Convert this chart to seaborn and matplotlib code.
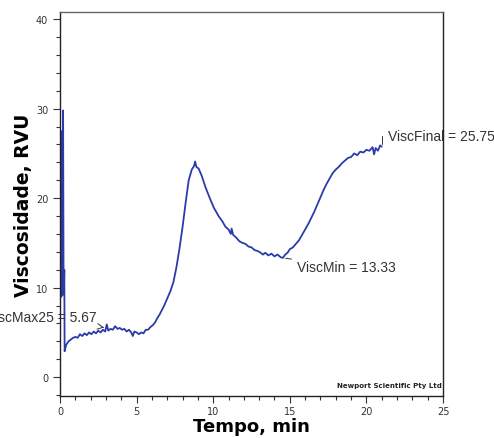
import matplotlib
matplotlib.use("Agg")
import matplotlib.pyplot as plt
from matplotlib.ticker import MultipleLocator
import pandas as pd
import seaborn as sns

# RVA curve (time in min, viscosity in RVU)
tempo = [0.10, 0.12, 0.14, 0.16, 0.18, 0.20, 0.23, 0.25, 0.28, 0.30,
         0.40, 0.55, 0.70, 0.85, 1.00, 1.15, 1.30, 1.45, 1.60, 1.75,
         1.90, 2.05, 2.20, 2.35, 2.50, 2.65, 2.80, 2.95, 3.05, 3.15,
         3.30, 3.45, 3.60, 3.75, 3.90, 4.05, 4.20, 4.35, 4.50, 4.65,
         4.75, 4.85, 5.00, 5.15, 5.30, 5.45, 5.60, 5.75, 5.90, 6.05,
         6.20, 6.35, 6.50, 6.65, 6.80, 7.00, 7.20, 7.40, 7.60, 7.80,
         8.00, 8.20, 8.40, 8.60, 8.75, 8.82, 8.90, 9.05, 9.25, 9.50,
         9.80, 10.05, 10.35, 10.60, 10.80, 11.00, 11.15, 11.20, 11.30, 11.50,
         11.70, 11.90, 12.10, 12.30, 12.50, 12.70, 12.90, 13.10, 13.25, 13.40,
         13.60, 13.80, 14.00, 14.20, 14.40, 14.55, 14.70, 14.85, 15.00, 15.20,
         15.40, 15.60, 15.80, 16.00, 16.20, 16.40, 16.60, 16.80, 17.00, 17.20,
         17.40, 17.60, 17.80, 18.00, 18.20, 18.40, 18.60, 18.80, 19.00, 19.20,
         19.40, 19.60, 19.80, 20.00, 20.20, 20.40, 20.50, 20.60, 20.75, 20.90,
         21.00]
viscosidade = [9.0, 27.5, 10.5, 12.0, 9.2, 29.8, 11.5, 9.5, 12.0, 2.9,
               3.6, 4.0, 4.2, 4.4, 4.5, 4.4, 4.8, 4.6, 4.9, 4.7,
               5.0, 4.8, 5.1, 4.9, 5.2, 5.0, 5.3, 5.1, 5.9, 5.2,
               5.4, 5.3, 5.7, 5.4, 5.5, 5.3, 5.4, 5.1, 5.3, 5.0,
               4.6, 5.1, 5.0, 4.8, 5.0, 4.9, 5.3, 5.3, 5.6, 5.8,
               6.1, 6.6, 7.0, 7.5, 8.0, 8.8, 9.6, 10.6, 12.3, 14.4,
               16.8, 19.5, 22.0, 23.2, 23.6, 24.1, 23.5, 23.3, 22.5, 21.2,
               19.9, 18.9, 18.0, 17.4, 16.8, 16.5, 16.0, 16.6, 15.9, 15.6,
               15.2, 15.0, 14.9, 14.6, 14.5, 14.2, 14.1, 13.9, 13.7, 13.9,
               13.6, 13.8, 13.5, 13.7, 13.4, 13.33, 13.7, 13.9, 14.3, 14.5,
               14.9, 15.3, 15.9, 16.5, 17.1, 17.8, 18.5, 19.3, 20.1, 20.9,
               21.6, 22.2, 22.8, 23.2, 23.5, 23.9, 24.2, 24.5, 24.6, 25.0,
               24.8, 25.2, 25.1, 25.4, 25.3, 25.7, 24.9, 25.6, 25.3, 25.9,
               25.75]

# labelled points: (text, x, y)
visc_max = ("ViscMax25 = 5.67", 3.05, 5.5)
visc_min = ("ViscMin = 13.33", 14.55, 13.33)
visc_final = ("ViscFinal = 25.75", 21.0, 25.75)

df = pd.DataFrame({"tempo": tempo, "visc": viscosidade})

sns.set_style("ticks")
fig = plt.figure(figsize=(4.94, 4.39), dpi=100)
ax = fig.add_axes([0.1215, 0.0957, 0.7753, 0.8747])

sns.lineplot(data=df, x="tempo", y="visc", sort=False, estimator=None,
             color="#2b3bab", linewidth=1.3, ax=ax)

ax.set_xlim(0, 25)
ax.set_ylim(-2.1, 40.8)
ax.xaxis.set_major_locator(MultipleLocator(5))
ax.xaxis.set_minor_locator(MultipleLocator(1))
ax.yaxis.set_major_locator(MultipleLocator(10))
ax.yaxis.set_minor_locator(MultipleLocator(2))
ax.tick_params(which="major", length=5, width=0.8, labelsize=7, colors="#333333")
ax.tick_params(axis="x", which="major", pad=2)
ax.tick_params(which="minor", length=3, width=0.8, colors="#333333")
for s in ax.spines.values():
    s.set_linewidth(1.0)
    s.set_color("#222222")
ax.spines["top"].set_color("#666666")

ax.set_xlabel("Tempo, min", fontsize=13, fontweight="heavy", labelpad=1,
              color="black")
ax.set_ylabel("Viscosidade, RVU", fontsize=13.5, fontweight="heavy", labelpad=2,
              color="black")

note = dict(fontsize=10, color="#333333", family="Liberation Sans")
ax.annotate(visc_max[0], xy=(visc_max[1], visc_max[2]), xytext=(2.4, 6.7),
            ha="right", va="center", annotation_clip=False, **note,
            arrowprops=dict(arrowstyle="->", color="#333333", lw=0.7))
ax.annotate(visc_min[0], xy=(visc_min[1], visc_min[2]), xytext=(15.5, 12.3),
            ha="left", va="center", **note,
            arrowprops=dict(arrowstyle="-", color="#333333", lw=0.7))
ax.annotate(visc_final[0], xy=(visc_final[1], visc_final[2]), xytext=(21.4, 26.9),
            ha="left", va="center", annotation_clip=False, **note,
            arrowprops=dict(arrowstyle="-", color="#333333", lw=0.7,
                            connectionstyle="angle,angleA=180,angleB=90,rad=0"))

ax.text(24.9, -0.9, "Newport Scientific Pty Ltd", fontsize=5, fontweight="bold",
        ha="right", va="center", color="#222222")

plt.savefig("out.png", dpi=100)
